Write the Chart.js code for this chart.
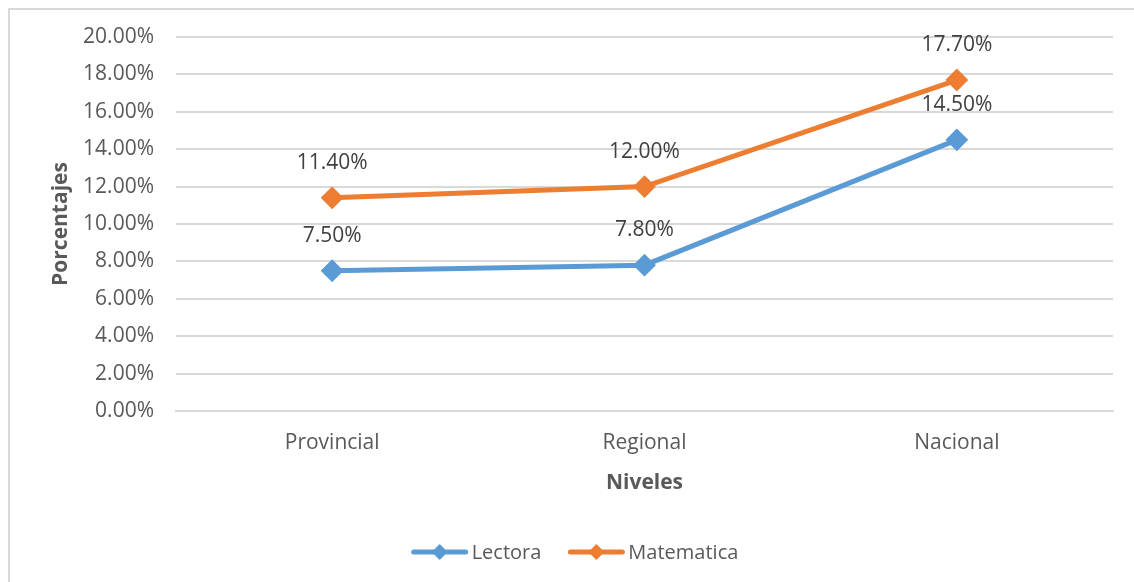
<!DOCTYPE html>
<html>
<head>
<meta charset="utf-8">
<script src="https://cdn.jsdelivr.net/npm/chart.js@4/dist/chart.umd.min.js"></script>
<style>
  html, body { margin: 0; padding: 0; background: #fff; overflow: hidden; }
  #wrap { position: relative; width: 1134px; height: 582px; }
  #frame { position: absolute; left: 8px; top: 8px; width: 1200px; height: 700px;
           border: 2px solid #d9d9d9; box-sizing: border-box; pointer-events: none; }
  canvas { position: absolute; left: 0; top: 0; }
</style>
</head>
<body>
<div id="wrap">
  <canvas id="chart" width="1134" height="582"></canvas>
  <div id="frame"></div>
</div>
<script>
const categories = ['Provincial', 'Regional', 'Nacional'];
const lectora = [7.5, 7.8, 14.5];
const matematica = [11.4, 12.0, 17.7];
const seriesNames = ['Lectora', 'Matematica'];
const seriesColors = ['#5b9bd5', '#ed7d31'];

const FONT = "'Open Sans', sans-serif";

// value labels above each point
const pointLabels = {
    id: 'pointLabels',
    afterDatasetsDraw(chart) {
        const ctx = chart.ctx;
        ctx.save();
        ctx.font = '21px ' + FONT;
        ctx.fillStyle = '#404040';
        ctx.textAlign = 'center';
        ctx.textBaseline = 'middle';
        chart.data.datasets.forEach((ds, i) => {
            chart.getDatasetMeta(i).data.forEach((pt, j) => {
                ctx.fillText(ds.data[j].toFixed(2) + '%', pt.x, pt.y - 35);
            });
        });
        ctx.restore();
    }
};

// excel style legend: line with diamond, then name
const lineLegend = {
    id: 'lineLegend',
    afterDraw(chart) {
        const ctx = chart.ctx;
        ctx.save();
        ctx.font = '20px ' + FONT;
        ctx.textBaseline = 'middle';
        const lineW = 56, gapText = 4, gapItem = 27;
        const items = chart.data.datasets.map(ds => ({
            label: ds.label, color: ds.borderColor, w: lineW + gapText + ctx.measureText(ds.label).width
        }));
        const total = items.reduce((s, it) => s + it.w, 0) + gapItem * (items.length - 1);
        let x = chart.width / 2 + 8 - total / 2;
        const y = 552;
        items.forEach(it => {
            ctx.strokeStyle = it.color;
            ctx.lineWidth = 5;
            ctx.lineCap = 'round';
            ctx.beginPath();
            ctx.moveTo(x + 2, y);
            ctx.lineTo(x + lineW - 2, y);
            ctx.stroke();
            const cx = x + lineW / 2, r = 8;
            ctx.fillStyle = it.color;
            ctx.beginPath();
            ctx.moveTo(cx, y - r);
            ctx.lineTo(cx + r, y);
            ctx.lineTo(cx, y + r);
            ctx.lineTo(cx - r, y);
            ctx.closePath();
            ctx.fill();
            ctx.fillStyle = '#595959';
            ctx.textAlign = 'left';
            ctx.fillText(it.label, x + lineW + gapText, y + 1);
            x += it.w + gapItem;
        });
        ctx.restore();
    }
};

const makeSet = (label, data, color) => ({
    label: label,
    data: data,
    borderColor: color,
    backgroundColor: color,
    borderWidth: 5,
    pointStyle: 'rectRot',
    pointRadius: 10,
    pointBorderWidth: 2,
    pointBackgroundColor: color,
    pointBorderColor: color,
    tension: 0
});

new Chart(document.getElementById('chart'), {
    type: 'line',
    data: {
        labels: categories,
        datasets: [
            makeSet(seriesNames[0], lectora, seriesColors[0]),
            makeSet(seriesNames[1], matematica, seriesColors[1])
        ]
    },
    options: {
        responsive: false,
        animation: false,
        layout: { padding: { left: 30, right: 21, top: 37, bottom: 70 } },
        plugins: {
            legend: { display: false },
            tooltip: { enabled: false }
        },
        scales: {
            x: {
                offset: true,
                grid: { display: false, drawTicks: false },
                border: { display: true, color: '#d9d9d9', width: 2 },
                ticks: { color: '#595959', font: { family: FONT, size: 21 }, padding: 19 },
                title: {
                    display: true, text: 'Niveles', color: '#595959',
                    font: { family: FONT, size: 21, weight: 'bold' },
                    padding: { top: 0, bottom: 16 }
                },
                afterFit(scale) { scale.height = 101; }
            },
            y: {
                min: 0,
                max: 20,
                ticks: {
                    stepSize: 2,
                    color: '#595959',
                    font: { family: FONT, size: 21 },
                    padding: 22,
                    callback: v => v.toFixed(2) + '%'
                },
                grid: { color: '#d9d9d9', lineWidth: 2, drawTicks: false },
                border: { display: false },
                title: {
                    display: true, text: 'Porcentajes', color: '#595959',
                    font: { family: FONT, size: 21, weight: 'bold' },
                    padding: { top: 18, bottom: 0 }
                },
                afterFit(scale) { scale.width = 146; }
            }
        }
    },
    plugins: [pointLabels, lineLegend]
});
</script>
</body>
</html>
